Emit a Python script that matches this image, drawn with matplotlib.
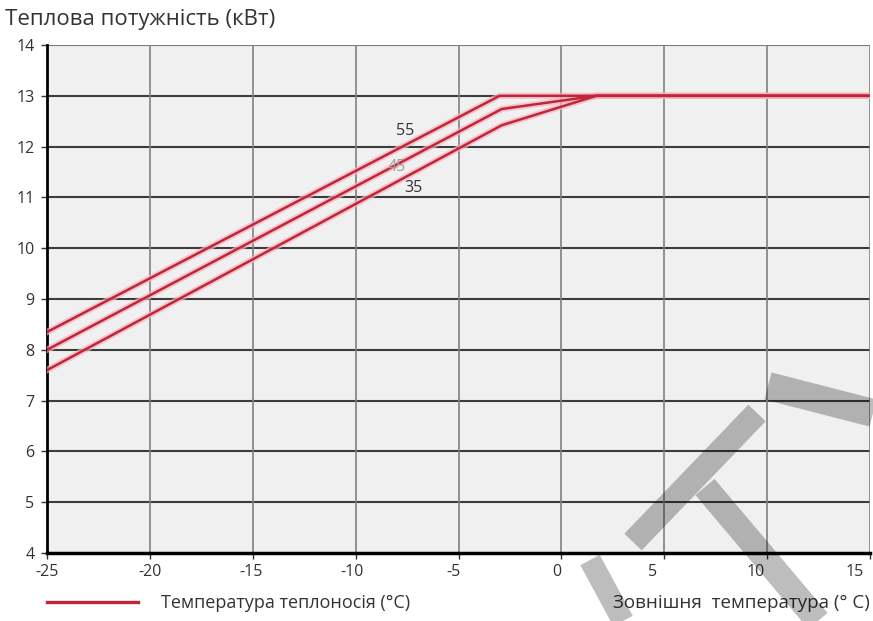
import matplotlib
matplotlib.use('Agg')
import matplotlib.pyplot as plt
from matplotlib.lines import Line2D
from matplotlib.transforms import ScaledTranslation

plt.rcParams['font.family'] = ['Open Sans', 'DejaVu Sans']

# Дані
x_ticks = [-25, -20, -15, -10, -5, 0, 5, 10, 15]
y_ticks = [4, 5, 6, 7, 8, 9, 10, 11, 12, 13, 14]

x_55 = [-25, -3.0, 15]
y_55 = [8.35, 13.0, 13.0]
x_45 = [-25, -2.9, 1.7, 15]
y_45 = [8.0, 12.74, 13.0, 13.0]
x_35 = [-25, -2.9, 1.7, 15]
y_35 = [7.6, 12.42, 13.0, 13.0]

curve_labels = ['55', '45', '35']
label_x = [-7.6, -8.0, -7.2]
label_y = [12.3, 11.6, 11.18]

red = '#c0263a'
halo = '#f4b3bd'

fig = plt.figure(figsize=(8.73, 6.21), dpi=100)
ax = fig.add_axes([47 / 873, 1 - 553 / 621, 823 / 873, 508 / 621])
ax.set_facecolor('#f0f0f0')
ax.set_xlim(-25, 15)
ax.set_ylim(4, 14)

# сітка
for y in y_ticks[1:-1]:
    ax.axhline(y, color='#3c3c3c', lw=1.5, zorder=1)
ax.axhline(14, color='#7a7a7a', lw=1.5, zorder=1)
for x in x_ticks[1:]:
    ax.axvline(x, color='#808080', lw=1.2, zorder=1)

for s in ['top', 'right']:
    ax.spines[s].set_visible(False)
ax.spines['left'].set_linewidth(2.0)
ax.spines['bottom'].set_linewidth(2.5)

ax.set_xticks(x_ticks)
ax.set_yticks(y_ticks)
ax.set_xticklabels([str(v) for v in x_ticks])
ax.tick_params(axis='both', length=4, width=1, labelsize=11.5, colors='#333333')
ax.tick_params(axis='y', pad=5)
ax.tick_params(axis='x', pad=4)

# підписи осі X у оригіналі трохи зсунуті вліво
shift_px = [0, 0, -2, -4, -5, -5, -12, -11, -15]
for lab, dx in zip(ax.get_xticklabels(), shift_px):
    lab.set_transform(lab.get_transform() +
                      ScaledTranslation(dx / 100, 0, fig.dpi_scale_trans))

for xs, ys in [(x_55, y_55), (x_45, y_45), (x_35, y_35)]:
    ax.plot(xs, ys, color=halo, lw=4.5, alpha=0.7, zorder=3,
            solid_joinstyle='miter')
    ax.plot(xs, ys, color=red, lw=1.8, zorder=4, solid_joinstyle='miter')

label_colors = ['#333333', '#a0a0a0', '#333333']
for t, lx, ly, c in zip(curve_labels, label_x, label_y, label_colors):
    ax.text(lx, ly, t, fontsize=11.5, color=c, ha='center', va='center',
            zorder=5)

# підписи
fig.text(5 / 873, 1 - 20 / 621, 'Теплова потужність (кВт)', fontsize=16,
         color='#333333', va='center', ha='left')
fig.add_artist(Line2D([47 / 873, 138 / 873], [1 - 602 / 621, 1 - 602 / 621],
                      color=red, lw=2.4))
fig.text(161 / 873, 1 - 603 / 621, 'Температура теплоносія (°C)', fontsize=13,
         color='#333333', va='center', ha='left')
fig.text(870 / 873, 1 - 603 / 621, 'Зовнішня  температура (° C)', fontsize=13.5,
         color='#333333', va='center', ha='right')

# водяний знак
marks = [((633, 542), (757, 413), 24),
         ((705, 487), (818, 621), 25),
         ((590, 560), (623, 621), 22),
         ((768, 386), (873, 413), 28)]
for (x0, y0), (x1, y1), w in marks:
    fig.add_artist(Line2D([x0 / 873, x1 / 873], [1 - y0 / 621, 1 - y1 / 621],
                          color='black', alpha=0.26, lw=w * 0.72,
                          solid_capstyle='butt', zorder=10))

fig.savefig('out.png', dpi=100)
